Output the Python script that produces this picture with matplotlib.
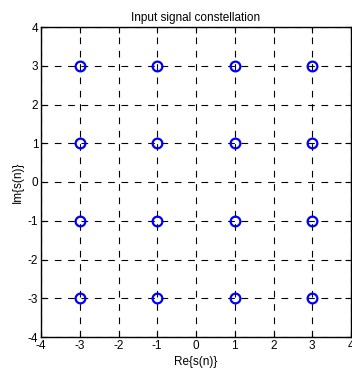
import matplotlib
matplotlib.use("Agg")
import matplotlib.pyplot as plt
import numpy as np

re_levels = [-3, -1, 1, 3]
im_levels = [-3, -1, 1, 3]
ticks = [-4, -3, -2, -1, 0, 1, 2, 3, 4]
title = "Input signal constellation"
xlabel = "Re{s(n)}"
ylabel = "Im{s(n)}"

plt.rcParams['font.family'] = ['Liberation Sans', 'DejaVu Sans']
fig = plt.figure(figsize=(3.52, 3.71), dpi=100)
ax = fig.add_axes([41/352, 34/371, 310/352, 310/371])

xs = [r for r in re_levels for _ in im_levels]
ys = [i for _ in re_levels for i in im_levels]
ax.plot(xs, ys, 'o', linestyle='none', markerfacecolor='none',
        markeredgecolor='#0000ff', markersize=7, markeredgewidth=1.6, zorder=3)

ax.set_xlim(-4, 4)
ax.set_ylim(-4, 4)
ax.set_xticks(ticks)
ax.set_yticks(ticks)
ax.set_xticklabels([str(t) for t in ticks])
ax.set_yticklabels([str(t) for t in ticks])
ax.grid(True, color='black', linestyle=(0, (6, 6)), linewidth=0.8)
ax.set_axisbelow(True)
ax.tick_params(direction='in', length=4, width=0.8, labelsize=8.5, top=True, right=True, pad=2)
for s in ax.spines.values():
    s.set_linewidth(1.0)
ax.set_title(title, fontsize=8.5, pad=4)
ax.set_xlabel(xlabel, fontsize=8.5, labelpad=3)
ax.set_ylabel(ylabel, fontsize=8.5, labelpad=3)

fig.savefig("out.png", dpi=100)
